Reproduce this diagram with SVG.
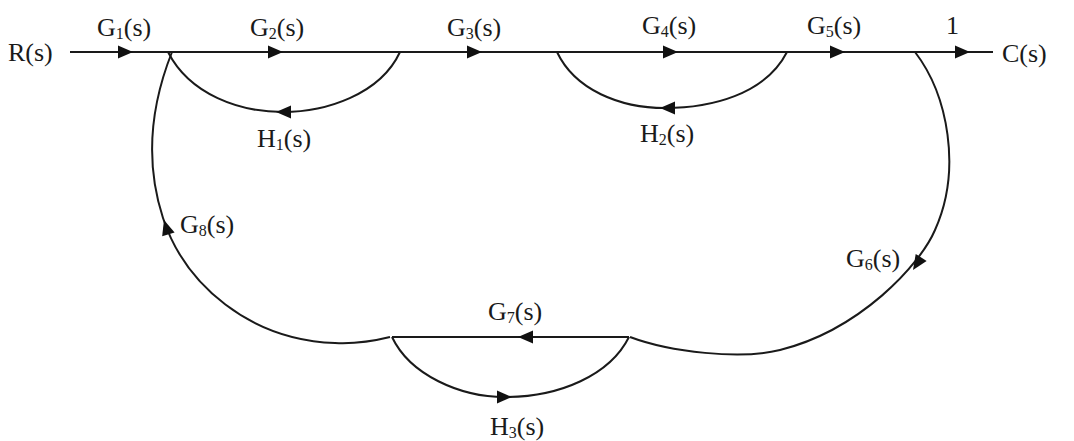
<svg xmlns="http://www.w3.org/2000/svg" xmlns:xlink="http://www.w3.org/1999/xlink" width="1074" height="441" viewBox="0 0 1074 441">
<style>
.ln{fill:none;stroke:#1a1a1a;stroke-width:2}
.ah{fill:#111}
text{font-family:"Liberation Serif","Times New Roman",serif;font-size:26px;fill:#1a1a1a}
.sub{font-size:16px}
</style>
<defs>
<path id="ah" class="ah" d="M0,0 L-15,-6.5 L-15,6.5 Z"/>
</defs>
<rect width="1074" height="441" fill="#fff"/>
<g id="connectors">
<path class="ln" d="M70,52 L993,52"/>
<path class="ln" d="M400,52 C380,95 325,112 283,112 C240,112 190,95 168,52"/>
<path class="ln" d="M787,52 C765,95 710,108 665,108 C620,108 575,90 557,52"/>
<path class="ln" d="M392,337 L629,337"/>
<path class="ln" d="M392,337 C410,375 460,397 505,397 C560,397 610,375 629,337"/>
<path class="ln" d="M390,337 C370,342 355,344 335,343 C250,340 185,285 163,218 C149,175 145,120 172,52"/>
<path class="ln" d="M915,52 C948,95 962,170 935,230 C920,265 860,330 780,350 C740,360 670,352 630,337"/>
<use href="#ah" transform="translate(133,52)"/>
<use href="#ah" transform="translate(283,52)"/>
<use href="#ah" transform="translate(482,52)"/>
<use href="#ah" transform="translate(678,52)"/>
<use href="#ah" transform="translate(845,52)"/>
<use href="#ah" transform="translate(970,52)"/>
<use href="#ah" transform="translate(276,112) rotate(180)"/>
<use href="#ah" transform="translate(660,108) rotate(180)"/>
<use href="#ah" transform="translate(518,337) rotate(180)"/>
<use href="#ah" transform="translate(512,397)"/>
<use href="#ah" transform="translate(164,220) rotate(-107)"/>
<use href="#ah" transform="translate(913,270) rotate(123)"/>
</g>
<g id="R"><text x="8" y="61">R(s)</text></g>
<g id="C"><text x="1002" y="62">C(s)</text></g>
<g id="G1"><text x="97" y="36">G<tspan class="sub" dy="3">1</tspan><tspan dy="-3">(s)</tspan></text></g>
<g id="G2"><text x="250" y="36">G<tspan class="sub" dy="3">2</tspan><tspan dy="-3">(s)</tspan></text></g>
<g id="G3"><text x="447" y="36">G<tspan class="sub" dy="3">3</tspan><tspan dy="-3">(s)</tspan></text></g>
<g id="G4"><text x="642" y="34">G<tspan class="sub" dy="3">4</tspan><tspan dy="-3">(s)</tspan></text></g>
<g id="G5"><text x="807" y="34">G<tspan class="sub" dy="3">5</tspan><tspan dy="-3">(s)</tspan></text></g>
<g id="one"><text x="946" y="34">1</text></g>
<g id="H1"><text x="257" y="147">H<tspan class="sub" dy="3">1</tspan><tspan dy="-3">(s)</tspan></text></g>
<g id="H2"><text x="640" y="142">H<tspan class="sub" dy="3">2</tspan><tspan dy="-3">(s)</tspan></text></g>
<g id="G8"><text x="180" y="233">G<tspan class="sub" dy="3">8</tspan><tspan dy="-3">(s)</tspan></text></g>
<g id="G6"><text x="846" y="267">G<tspan class="sub" dy="3">6</tspan><tspan dy="-3">(s)</tspan></text></g>
<g id="G7"><text x="488" y="320">G<tspan class="sub" dy="3">7</tspan><tspan dy="-3">(s)</tspan></text></g>
<g id="H3"><text x="490" y="435">H<tspan class="sub" dy="3">3</tspan><tspan dy="-3">(s)</tspan></text></g>
</svg>
